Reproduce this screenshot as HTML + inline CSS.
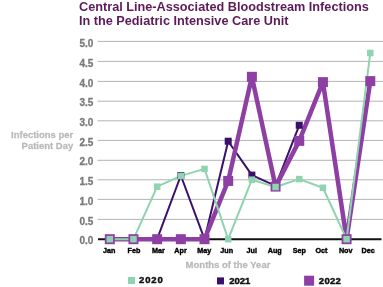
<!DOCTYPE html>
<html><head><meta charset="utf-8"><style>
html,body{margin:0;padding:0;background:#fff;width:383px;height:287px;overflow:hidden}
svg{display:block;font-family:"Liberation Sans", sans-serif;will-change:transform}
</style></head><body>
<svg width="383" height="287" viewBox="0 0 383 287">
<line x1="97.5" y1="219.40" x2="383" y2="219.40" stroke="#b4b4b4" stroke-width="1"/>
<line x1="97.5" y1="199.40" x2="383" y2="199.40" stroke="#b4b4b4" stroke-width="1"/>
<line x1="97.5" y1="179.80" x2="383" y2="179.80" stroke="#b4b4b4" stroke-width="1"/>
<line x1="97.5" y1="160.30" x2="383" y2="160.30" stroke="#b4b4b4" stroke-width="1"/>
<line x1="97.5" y1="140.40" x2="383" y2="140.40" stroke="#b4b4b4" stroke-width="1"/>
<line x1="97.5" y1="120.80" x2="383" y2="120.80" stroke="#b4b4b4" stroke-width="1"/>
<line x1="97.5" y1="101.20" x2="383" y2="101.20" stroke="#b4b4b4" stroke-width="1"/>
<line x1="97.5" y1="81.40" x2="383" y2="81.40" stroke="#b4b4b4" stroke-width="1"/>
<line x1="97.5" y1="61.40" x2="383" y2="61.40" stroke="#b4b4b4" stroke-width="1"/>
<line x1="97.5" y1="41.40" x2="383" y2="41.40" stroke="#b4b4b4" stroke-width="1"/>
<line x1="98" y1="239.20" x2="381.5" y2="239.20" stroke="#111" stroke-width="2"/>
<text x="93.30" y="244.20" font-size="10" font-weight="bold" fill="#7a7a7a" text-anchor="end" stroke="#7a7a7a" stroke-width="0.3">0.0</text>
<text x="93.30" y="224.52" font-size="10" font-weight="bold" fill="#7a7a7a" text-anchor="end" stroke="#7a7a7a" stroke-width="0.3">0.5</text>
<text x="93.30" y="204.84" font-size="10" font-weight="bold" fill="#7a7a7a" text-anchor="end" stroke="#7a7a7a" stroke-width="0.3">1.0</text>
<text x="93.30" y="185.16" font-size="10" font-weight="bold" fill="#7a7a7a" text-anchor="end" stroke="#7a7a7a" stroke-width="0.3">1.5</text>
<text x="93.30" y="165.48" font-size="10" font-weight="bold" fill="#7a7a7a" text-anchor="end" stroke="#7a7a7a" stroke-width="0.3">2.0</text>
<text x="93.30" y="145.80" font-size="10" font-weight="bold" fill="#7a7a7a" text-anchor="end" stroke="#7a7a7a" stroke-width="0.3">2.5</text>
<text x="93.30" y="126.12" font-size="10" font-weight="bold" fill="#7a7a7a" text-anchor="end" stroke="#7a7a7a" stroke-width="0.3">3.0</text>
<text x="93.30" y="106.44" font-size="10" font-weight="bold" fill="#7a7a7a" text-anchor="end" stroke="#7a7a7a" stroke-width="0.3">3.5</text>
<text x="93.30" y="86.76" font-size="10" font-weight="bold" fill="#7a7a7a" text-anchor="end" stroke="#7a7a7a" stroke-width="0.3">4.0</text>
<text x="93.30" y="67.08" font-size="10" font-weight="bold" fill="#7a7a7a" text-anchor="end" stroke="#7a7a7a" stroke-width="0.3">4.5</text>
<text x="93.30" y="47.40" font-size="10" font-weight="bold" fill="#7a7a7a" text-anchor="end" stroke="#7a7a7a" stroke-width="0.3">5.0</text>
<polyline points="109.80,239.20 133.48,239.20 157.16,239.20 180.84,175.51 204.52,239.20 228.20,141.21 251.88,175.11 275.56,185.79 299.24,125.27" fill="none" stroke="#3b106c" stroke-width="2" stroke-linejoin="round"/>
<polyline points="109.80,239.20 133.48,239.20 157.16,239.20 180.84,239.20 204.52,239.20 228.20,180.93 251.88,76.81 275.56,186.59 299.24,140.89 322.92,82.15 346.60,239.20 370.28,81.12" fill="none" stroke="#8e3fa3" stroke-width="4.5" stroke-linejoin="round"/>
<polyline points="109.80,239.20 133.48,239.20 157.16,186.70 180.84,175.90 204.52,168.90 228.20,239.20 251.88,179.70 275.56,186.98 299.24,179.11 322.92,187.77 346.60,239.20 370.28,52.99" fill="none" stroke="#8fd3b0" stroke-width="2" stroke-linejoin="round"/>
<rect x="106.30" y="235.70" width="7" height="7" fill="#3b106c"/><rect x="129.98" y="235.70" width="7" height="7" fill="#3b106c"/><rect x="153.66" y="235.70" width="7" height="7" fill="#3b106c"/><rect x="177.34" y="172.01" width="7" height="7" fill="#3b106c"/><rect x="201.02" y="235.70" width="7" height="7" fill="#3b106c"/><rect x="224.70" y="137.71" width="7" height="7" fill="#3b106c"/><rect x="248.38" y="171.61" width="7" height="7" fill="#3b106c"/><rect x="272.06" y="182.29" width="7" height="7" fill="#3b106c"/><rect x="295.74" y="121.77" width="7" height="7" fill="#3b106c"/>
<rect x="104.80" y="234.20" width="10" height="10" fill="#8e3fa3"/><rect x="128.48" y="234.20" width="10" height="10" fill="#8e3fa3"/><rect x="152.16" y="234.20" width="10" height="10" fill="#8e3fa3"/><rect x="175.84" y="234.20" width="10" height="10" fill="#8e3fa3"/><rect x="199.52" y="234.20" width="10" height="10" fill="#8e3fa3"/><rect x="223.20" y="175.93" width="10" height="10" fill="#8e3fa3"/><rect x="246.88" y="71.81" width="10" height="10" fill="#8e3fa3"/><rect x="270.56" y="181.59" width="10" height="10" fill="#8e3fa3"/><rect x="294.24" y="135.89" width="10" height="10" fill="#8e3fa3"/><rect x="317.92" y="77.15" width="10" height="10" fill="#8e3fa3"/><rect x="341.60" y="234.20" width="10" height="10" fill="#8e3fa3"/><rect x="365.28" y="76.12" width="10" height="10" fill="#8e3fa3"/>
<rect x="106.55" y="235.95" width="6.5" height="6.5" fill="#8fd3b0"/><rect x="130.23" y="235.95" width="6.5" height="6.5" fill="#8fd3b0"/><rect x="153.91" y="183.45" width="6.5" height="6.5" fill="#8fd3b0"/><rect x="177.59" y="172.65" width="6.5" height="6.5" fill="#8fd3b0"/><rect x="201.27" y="165.65" width="6.5" height="6.5" fill="#8fd3b0"/><rect x="224.95" y="235.95" width="6.5" height="6.5" fill="#8fd3b0"/><rect x="248.63" y="176.45" width="6.5" height="6.5" fill="#8fd3b0"/><rect x="272.31" y="183.73" width="6.5" height="6.5" fill="#8fd3b0"/><rect x="295.99" y="175.86" width="6.5" height="6.5" fill="#8fd3b0"/><rect x="319.67" y="184.52" width="6.5" height="6.5" fill="#8fd3b0"/><rect x="343.35" y="235.95" width="6.5" height="6.5" fill="#8fd3b0"/><rect x="367.03" y="49.74" width="6.5" height="6.5" fill="#8fd3b0"/>
<text x="109.10" y="253.00" font-size="7.2" font-weight="bold" fill="#000" text-anchor="middle" stroke="#000" stroke-width="0.4">Jan</text>
<text x="134.00" y="253.00" font-size="7.2" font-weight="bold" fill="#000" text-anchor="middle" stroke="#000" stroke-width="0.4">Feb</text>
<text x="158.30" y="253.00" font-size="7.2" font-weight="bold" fill="#000" text-anchor="middle" stroke="#000" stroke-width="0.4">Mar</text>
<text x="180.50" y="253.00" font-size="7.2" font-weight="bold" fill="#000" text-anchor="middle" stroke="#000" stroke-width="0.4">Apr</text>
<text x="204.20" y="253.00" font-size="7.2" font-weight="bold" fill="#000" text-anchor="middle" stroke="#000" stroke-width="0.4">May</text>
<text x="226.70" y="253.00" font-size="7.2" font-weight="bold" fill="#000" text-anchor="middle" stroke="#000" stroke-width="0.4">Jun</text>
<text x="251.70" y="253.00" font-size="7.2" font-weight="bold" fill="#000" text-anchor="middle" stroke="#000" stroke-width="0.4">Jul</text>
<text x="274.70" y="253.00" font-size="7.2" font-weight="bold" fill="#000" text-anchor="middle" stroke="#000" stroke-width="0.4">Aug</text>
<text x="299.40" y="253.00" font-size="7.2" font-weight="bold" fill="#000" text-anchor="middle" stroke="#000" stroke-width="0.4">Sep</text>
<text x="321.40" y="253.00" font-size="7.2" font-weight="bold" fill="#000" text-anchor="middle" stroke="#000" stroke-width="0.4">Oct</text>
<text x="345.70" y="253.00" font-size="7.2" font-weight="bold" fill="#000" text-anchor="middle" stroke="#000" stroke-width="0.4">Nov</text>
<text x="368.10" y="253.00" font-size="7.2" font-weight="bold" fill="#000" text-anchor="middle" stroke="#000" stroke-width="0.4">Dec</text>
<text transform="translate(73.30,138.10) scale(1,1.05)" font-size="9.5" font-weight="bold" fill="#b9b9b9" text-anchor="end" stroke="#b9b9b9" stroke-width="0.25">Infections per</text>
<text transform="translate(73.30,148.70) scale(1,1.05)" font-size="9.5" font-weight="bold" fill="#b9b9b9" text-anchor="end" stroke="#b9b9b9" stroke-width="0.25">Patient Day</text>
<text transform="translate(228.00,267.80) scale(1,1.05)" font-size="9.5" font-weight="bold" fill="#b9b9b9" text-anchor="middle" stroke="#b9b9b9" stroke-width="0.25">Months of the Year</text>
<rect x="128" y="277" width="7" height="7" fill="#8fd3b0"/>
<text x="139.00" y="283.30" font-size="9.5" font-weight="bold" fill="#111" stroke="#111" stroke-width="0.45" letter-spacing="0.9">2020</text>
<rect x="217" y="277.4" width="7" height="7" fill="#3b106c"/>
<text x="229.20" y="283.60" font-size="9.5" font-weight="bold" fill="#111" stroke="#111" stroke-width="0.45">2021</text>
<rect x="304.1" y="275.7" width="10" height="10" fill="#8e3fa3"/>
<text x="318.80" y="283.60" font-size="9.5" font-weight="bold" fill="#111" stroke="#111" stroke-width="0.45" letter-spacing="0.3">2022</text>
<text x="79.00" y="11.00" font-size="12.7" font-weight="bold" fill="#5c1a5a">Central Line-Associated Bloodstream Infections</text>
<text x="79.00" y="24.60" font-size="12.7" font-weight="bold" fill="#5c1a5a">In the Pediatric Intensive Care Unit</text>
</svg>
</body></html>
